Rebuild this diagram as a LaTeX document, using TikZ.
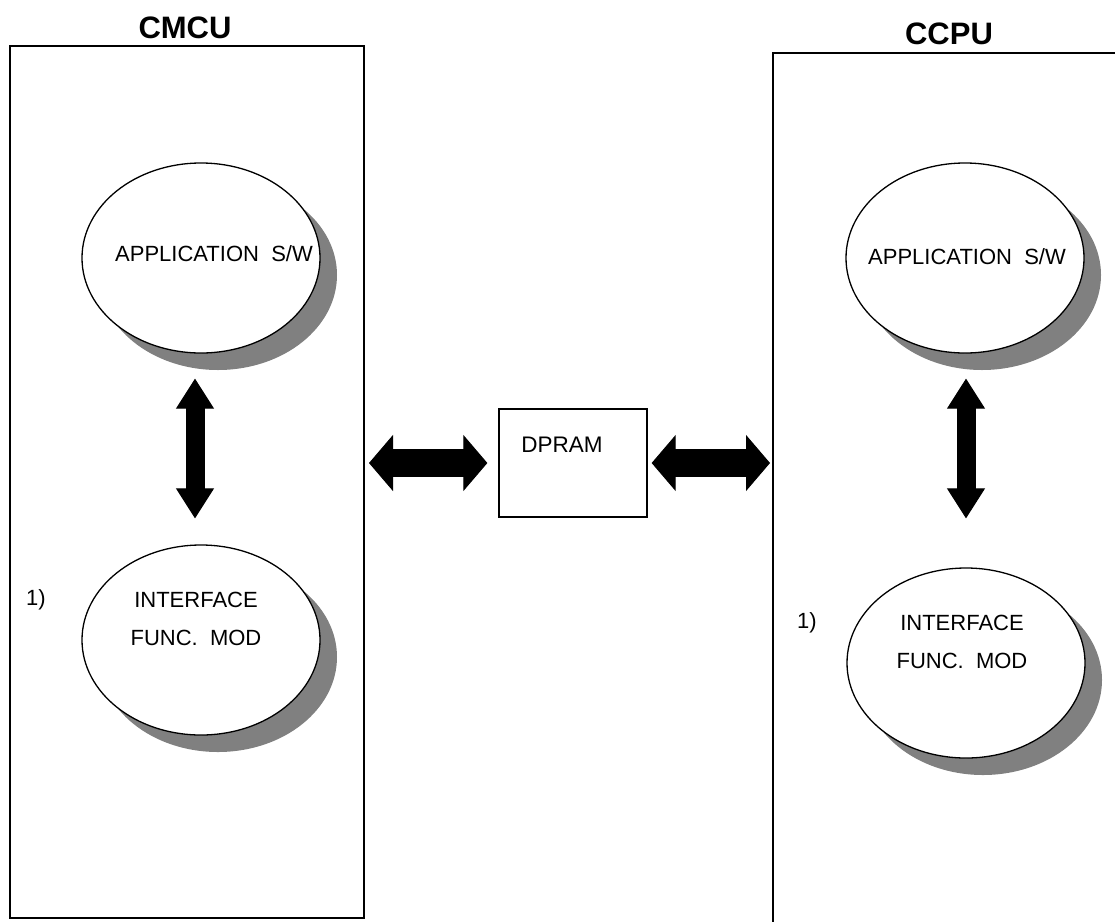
\documentclass[tikz,border=0pt]{standalone}
\usepackage{fontspec}
\setmainfont{Liberation Sans}
\usetikzlibrary{calc,shapes.geometric,shadows,arrows.meta}

\tikzset{
  unitbox/.style={draw,line width=2pt,inner sep=0pt},
  title/.style={font=\fontsize{31}{37}\selectfont\bfseries,inner sep=0pt},
  module/.style={ellipse,draw,fill=white,line width=1.3pt,minimum width=238pt,minimum height=190pt,
    drop shadow={shadow xshift=17pt,shadow yshift=-17pt,fill=black!50,opacity=1}},
  modtext/.style={font=\fontsize{22}{38}\selectfont,align=center,inner sep=0pt},
  ramtext/.style={font=\fontsize{22.5}{27}\selectfont,inner sep=0pt},
  membox/.style={draw,line width=1.3pt,minimum width=148pt,minimum height=108pt},
  hfat/.style={line width=28pt,{Triangle[width=56pt,length=24pt,line width=1pt]}-{Triangle[width=56pt,length=24pt,line width=1pt]}},
  vfat/.style={line width=19pt,{Triangle[width=38pt,length=30pt,line width=1pt]}-{Triangle[width=38pt,length=30pt,line width=1pt]}}
}

\begin{document}
\begin{tikzpicture}[x=1pt,y=-1pt]
  % page frame
  \useasboundingbox (0,0) rectangle (1115,921);
  \clip (0,0) rectangle (1115,921);

  % the two processor units
  \node[unitbox,minimum width=354pt,minimum height=872pt] (cmcu) at (187,482) {};
  \node[unitbox,minimum width=360pt,minimum height=880pt] (ccpu) at (953,493) {};
  \node[title] (cmcutitle) at (185,28) {CMCU};
  \node[title] (ccputitle) at (949,34) {CCPU};

  % software modules
  \node[module] (app1) at (201,258) {};
  \node[module] (ifc1) at (201,640) {};
  \node[module] (app2) at (965,258) {};
  \node[module] (ifc2) at (966,663) {};

  \node[modtext] (app1txt) at ($(app1)+(13,-4)$) {APPLICATION~~S/W};
  \node[modtext] (app2txt) at ($(app2)+(2,-1)$) {APPLICATION~~S/W};
  \node[modtext] (ifc1txt) at ($(ifc1)+(-5,-21)$) {INTERFACE\\FUNC.~~MOD};
  \node[modtext] (ifc2txt) at ($(ifc2)+(-4,-21)$) {INTERFACE\\FUNC.~~MOD};
  \node[modtext] (ifc1num) at (36,600) {1)};
  \node[modtext] (ifc2num) at (807,623) {1)};

  % shared memory
  \node[membox] (dpram) at (573,463) {};
  \node[ramtext] (dpramtxt) at ($(dpram)+(-11,-18)$) {DPRAM};

  % links
  \draw[vfat,shorten <=25pt,shorten >=26pt] ($(app1.south)+(-6,0)$) -- ($(ifc1.north)+(-6,0)$);
  \draw[vfat,shorten <=25pt,shorten >=49pt] ($(app2.south)+(1,0)$) -- (ifc2.north);
  \draw[hfat,shorten <=4pt,shorten >=11pt] (cmcu.east |- dpram.west) -- (dpram.west);
  \draw[hfat,shorten <=4pt,shorten >=2pt] (dpram.east) -- (ccpu.west |- dpram.east);
\end{tikzpicture}
\end{document}
